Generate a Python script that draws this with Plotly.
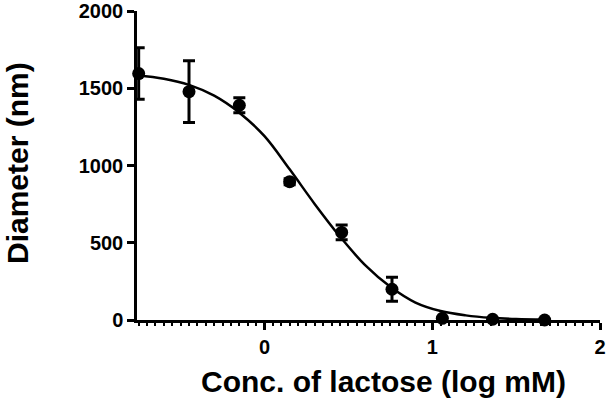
import plotly.graph_objects as go

# Data
log_conc = [-0.75, -0.45, -0.15, 0.15, 0.46, 0.76, 1.06, 1.36, 1.67]
diameter = [1595, 1478, 1390, 895, 567, 199, 11, 5, 0]
diameter_err = [167, 200, 48, 20, 48, 77, 0, 0, 0]

fit_x = [-0.76, -0.6, -0.45, -0.3, -0.15, 0.0, 0.15, 0.3, 0.45, 0.6, 0.75, 0.9, 1.05, 1.2, 1.35, 1.5, 1.67]
fit_y = [1585, 1562, 1522, 1452, 1342, 1190, 975, 750, 540, 355, 215, 113, 58, 30, 14, 6, 3]

x_ticks = [0, 1, 2]
y_ticks = [0, 500, 1000, 1500, 2000]

FONT = "Arial, Liberation Sans, Helvetica, sans-serif"

fig = go.Figure()
fig.add_trace(go.Scatter(
    x=fit_x, y=fit_y, mode="lines", line=dict(color="black", width=2.5, shape="spline"),
    showlegend=False, hoverinfo="skip", cliponaxis=False))
fig.add_trace(go.Scatter(
    x=log_conc, y=diameter, mode="markers",
    marker=dict(color="black", size=13, symbol="circle"),
    error_y=dict(type="data", array=diameter_err, visible=True, color="black", thickness=3, width=6),
    showlegend=False, cliponaxis=False))

fig.update_layout(
    width=608, height=399,
    margin=dict(l=137, r=8, t=11, b=79, autoexpand=False),
    plot_bgcolor="white", paper_bgcolor="white",
    font=dict(family=FONT, color="black"),
    xaxis=dict(
        range=[-0.76, 2.0], tickvals=x_ticks, ticktext=[str(v) for v in x_ticks],
        automargin=False,
        showgrid=False, zeroline=False, showline=True, linecolor="black", linewidth=2.5,
        ticks="outside", ticklen=7, tickwidth=2.5, tickcolor="black",
        tickfont=dict(family=FONT, size=20, weight="bold", color="black"),
        minor=dict(dtick=0.05, tick0=0, ticks="outside", ticklen=3, tickwidth=1.5, tickcolor="black"),
    ),
    yaxis=dict(
        range=[0, 2000], tickvals=y_ticks, ticktext=[str(v) for v in y_ticks],
        automargin=False,
        showgrid=False, zeroline=False, showline=True, linecolor="black", linewidth=2.5,
        ticks="outside", ticklen=7, tickwidth=2.5, tickcolor="black",
        tickfont=dict(family=FONT, size=20, weight="bold", color="black"),
    ),
    annotations=[
        dict(text="Conc. of lactose (log mM)", xref="paper", yref="paper",
             x=(383 - 137) / (600 - 137), y=-(381 - 320) / (320 - 11),
             xanchor="center", yanchor="middle", showarrow=False,
             font=dict(family=FONT, size=30, weight="bold", color="black")),
        dict(text="Diameter (nm)", xref="paper", yref="paper",
             x=-(137 - 17) / (600 - 137), y=(320 - 163) / (320 - 11),
             xanchor="center", yanchor="middle", showarrow=False, textangle=-90,
             font=dict(family=FONT, size=30, weight="bold", color="black")),
    ],
)

fig.write_html("out.html", config={"displayModeBar": False},
               post_script="document.body.style.margin='0';document.body.style.overflow='hidden';")
